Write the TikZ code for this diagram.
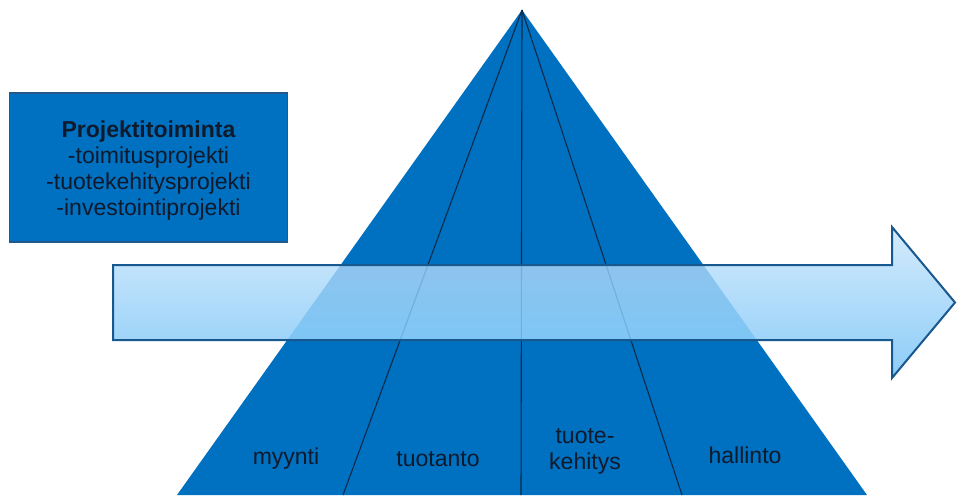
\documentclass[tikz,border=0pt]{standalone}
\usepackage{fontspec}
\setmainfont{Liberation Sans}
\definecolor{pyrblue}{HTML}{0070C0}
\definecolor{boxedge}{HTML}{24588A}
\definecolor{divink}{HTML}{0D2A4A}
\definecolor{labelink}{HTML}{0F1A2C}
\definecolor{arrtop}{HTML}{D4EBFC}
\definecolor{arrbot}{HTML}{8CCCF8}
\definecolor{arrtopin}{HTML}{8DC4EE}
\definecolor{arrbotin}{HTML}{7EC6F6}
\definecolor{arredge}{HTML}{17588F}
\begin{document}
\begin{tikzpicture}[x=1pt,y=-1pt,
  lbl/.style={text=labelink, font=\fontsize{23}{26}\selectfont, align=center, inner sep=0pt},
  divline/.style={draw=divink, line width=1.1pt},
  infobox/.style={fill=pyrblue, draw=boxedge, line width=1.5pt}]
  % canvas
  \fill[white] (0,0) rectangle (957,495);
  \useasboundingbox (0,0) rectangle (957,495);

  % pyramid corners and division points on the base
  \coordinate (apex) at (522,10);
  \coordinate (bl) at (177,495);
  \coordinate (b1) at (343,495);
  \coordinate (b2) at (521,495);
  \coordinate (b3) at (682,495);
  \coordinate (br) at (867,495);

  \fill[pyrblue] (apex) -- (bl) -- (br) -- cycle;
  \draw[divline] (apex) -- (b1);
  \draw[divline] (apex) -- (b2);
  \draw[divline] (apex) -- (b3);

  % department labels
  \node[lbl] (myynti) at (286,459) {myynti};
  \node[lbl] (tuotanto) at (438,459) {tuotanto};
  \node[lbl] (tuotekehitys) at (585,451) {tuote-\\kehitys};
  \node[lbl] (hallinto) at (745,455) {hallinto};

  % project box
  \node[infobox, minimum width=278pt, minimum height=149pt, inner sep=0pt,
        text=labelink, font=\fontsize{23}{26}\selectfont, align=center]
    (projbox) at (148.5,167.5) {};
  \node[text=labelink, font=\fontsize{23}{26}\selectfont, align=center, inner sep=0pt]
    (projtext) at (148.5,170.5)
    {\textbf{Projektitoiminta}\\-toimitusprojekti\\-tuotekehitysprojekti\\-investointiprojekti};

  % process arrow across the pyramid
  \coordinate (a0) at (113,265);
  \coordinate (a1) at (892,265);
  \coordinate (a2) at (892,227);
  \coordinate (tip) at (955,302.5);
  \coordinate (a3) at (892,378);
  \coordinate (a4) at (892,340);
  \coordinate (a5) at (113,340);
  \shade[top color=arrtop, bottom color=arrbot]
    (a0) -- (a1) -- (a2) -- (tip) -- (a3) -- (a4) -- (a5) -- cycle;
  % where it crosses the pyramid it is tinted by the blue behind it
  \begin{scope}
    \clip (apex) -- (bl) -- (br) -- cycle;
    \shade[top color=arrtopin, bottom color=arrbotin]
      (a0) rectangle (a4);
    \clip (a0) rectangle (a4);
    \draw[divline, opacity=0.15] (apex) -- (b1);
    \draw[divline, opacity=0.15] (apex) -- (b2);
    \draw[divline, opacity=0.15] (apex) -- (b3);
  \end{scope}
  \draw[draw=arredge, line width=2pt, line join=miter]
    (a0) -- (a1) -- (a2) -- (tip) -- (a3) -- (a4) -- (a5) -- cycle;
\end{tikzpicture}
\end{document}
